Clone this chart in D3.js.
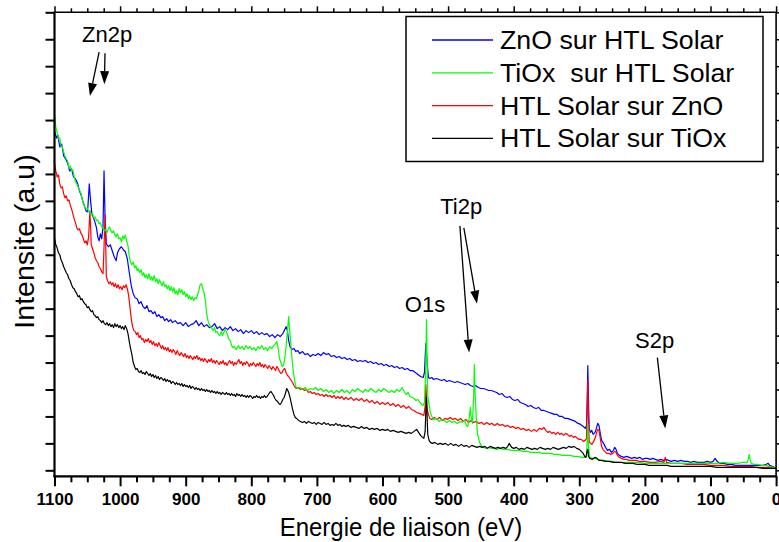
<!DOCTYPE html>
<html><head><meta charset="utf-8">
<script src="https://cdn.jsdelivr.net/npm/d3@7"></script>
<style>
body{margin:0;background:#fff;}
text{font-family:"Liberation Sans",Arial,sans-serif;}
</style></head>
<body><svg id="c" width="779" height="542"></svg>
<script>
// Binding energy (eV) / intensity (a.u.) pairs
const znoSurHtl = [[1100,346],[1097,339],[1095,342],[1092,330],[1089,333],[1086,321],[1083,318],[1080,314],[1077,306],[1074,308],[1071,300],[1068,298],[1065,294],[1062,286],[1060,283],[1057,276],[1054,270],[1052,266],[1050,265],[1049,271],[1047,293],[1045,276],[1043,263],[1040,258],[1038,254],[1036,249],[1034,240],[1032,236],[1030,243],[1028,238],[1026,251],[1024.5,306],[1023,261],[1021,233],[1018,230],[1015,232],[1012,226],[1009,220],[1006,216],[1004,224],[1001,228],[998,230],[995,227],[992,225],[989,218],[986,204],[983,191],[980,183],[977,179],[974,178],[971,173],[968,175],[965,170],[962,168],[959,171],[956,165],[953,166],[950,163],[947,165],[944,160],[941,162],[938,159],[935,160],[932,156],[929,158],[926,155],[923,157],[920,154],[916,156],[912,153],[908,154],[904,151],[900,154],[896,150],[892,152],[888,153],[884,156],[880,151],[876,154],[872,150],[868,152],[864,149],[860,150],[856,153],[852,148],[848,150],[844,146],[840,149],[836,147],[832,150],[828,146],[824,148],[820,145],[816,147],[812,143],[808,146],[804,144],[800,146],[796,143],[792,145],[788,142],[784,144],[780,142],[776,143],[772,140],[768,142],[764,139],[760,142],[756,140],[752,143],[749,147],[747,150],[745,146],[743,136],[741,130],[738,127],[735,128],[732,125],[729,126],[726,123],[722,125],[718,122],[714,123],[710,120],[706,122],[702,121],[698,123],[694,121],[690,124],[686,122],[682,123],[678,120],[674,121],[670,119],[666,120],[662,118],[658,119],[654,117],[650,118],[646,116],[642,117],[638,115],[634,116],[630,115],[626,116],[622,114],[618,115],[614,113],[610,114],[606,112],[602,113],[598,111],[594,112],[590,110],[586,111],[582,109],[578,110],[574,108],[570,109],[566,107],[562,108],[558,106],[554,106],[550,104],[546,102],[542,100],[538,99],[536,104],[534,133],[532,114],[530,99],[528,98],[525,99],[522,97],[518,98],[514,97],[510,96],[506,97],[502,95],[498,96],[494,95],[490,94],[486,95],[482,94],[478,93],[474,92],[470,93],[466,91],[462,90],[458,91],[454,89],[450,88],[446,88],[442,87],[438,86],[434,86],[430,85],[426,84],[422,82],[418,83],[414,80],[410,79],[406,80],[402,77],[398,76],[394,77],[390,74],[386,73],[382,72],[378,70],[374,71],[370,69],[366,68],[362,69],[358,66],[354,66],[350,65],[346,64],[342,63],[338,62],[334,62],[330,60],[326,60],[322,58],[318,58],[314,57],[310,56],[306,55],[302,53],[298,52],[294,50],[291,48],[289,51],[288,76],[287,111],[286,76],[285,48],[283,44],[281,46],[279,42],[276,44],[274,48],[272,53],[270,51],[268,43],[266,36],[263,33],[260,29],[257,26],[254,27],[251,24],[248,26],[246,29],[244,27],[242,23],[239,21],[236,20],[232,19],[228,20],[224,19],[220,18],[216,19],[212,18],[208,19],[204,17],[200,18],[196,18],[192,17],[188,18],[184,17],[180,16],[176,17],[172,16],[168,17],[164,16],[160,15],[155,16],[150,15],[145,16],[140,15],[135,15],[130,14],[125,15],[120,14],[115,14],[110,14],[105,15],[100,14],[96,15],[93,18],[90,15],[86,13],[80,13],[74,12],[68,12],[62,11],[56,11],[50,11],[44,11],[38,11],[32,11],[26,11],[20,11],[15,12],[12,13],[10,11],[6,10],[3,9],[0,8]];

const tioxSurHtl = [[1100,363],[1098,350],[1096,345],[1094,338],[1092,339],[1090,331],[1088,330],[1086,325],[1084,321],[1082,318],[1080,316],[1078,309],[1076,311],[1074,306],[1072,307],[1070,300],[1068,295],[1066,293],[1064,290],[1062,287],[1060,284],[1058,279],[1056,273],[1054,270],[1052,268],[1050,269],[1048,265],[1046,266],[1044,262],[1042,263],[1040,259],[1038,260],[1036,256],[1034,257],[1032,253],[1030,254],[1028,250],[1026,249],[1024,246],[1022,247],[1020,244],[1018,248],[1016,250],[1014,246],[1012,244],[1010,246],[1008,242],[1006,240],[1004,243],[1002,238],[1000,239],[998,235],[996,241],[994,238],[992,242],[990,236],[988,231],[986,220],[984,214],[982,212],[980,215],[978,209],[976,211],[974,206],[972,208],[970,204],[968,207],[966,201],[964,204],[962,199],[960,202],[958,198],[956,203],[954,197],[952,200],[950,196],[948,201],[946,195],[944,198],[942,193],[940,197],[938,194],[936,191],[934,195],[932,190],[930,192],[928,188],[926,191],[924,186],[922,190],[920,185],[918,189],[916,183],[914,186],[912,182],[910,188],[908,184],[906,187],[904,182],[902,185],[900,180],[898,183],[896,178],[894,181],[892,177],[890,180],[888,176],[886,179],[884,178],[882,182],[880,186],[878,192],[876,193],[874,188],[872,184],[870,176],[868,163],[866,156],[864,152],[862,150],[860,148],[858,146],[856,149],[854,144],[852,145],[850,142],[848,141],[846,145],[844,141],[842,144],[840,147],[838,145],[836,141],[834,137],[832,136],[830,131],[828,129],[826,130],[823,127],[820,131],[817,128],[814,130],[811,127],[808,131],[805,128],[802,130],[799,127],[796,129],[793,126],[790,130],[787,128],[784,131],[781,127],[778,129],[775,126],[772,130],[769,128],[766,131],[763,133],[761,135],[759,128],[757,118],[755,114],[753,110],[751,111],[749,118],[747,130],[745,145],[743,160],[742,150],[740,135],[738,118],[736,105],[734,96],[732,90],[730,88],[726,89],[722,87],[718,89],[714,86],[710,88],[706,87],[702,89],[698,86],[694,88],[690,85],[686,87],[682,84],[678,86],[674,83],[670,86],[666,84],[662,87],[658,84],[654,86],[650,83],[646,87],[642,85],[638,88],[634,86],[630,84],[626,87],[622,85],[618,88],[614,86],[610,84],[606,87],[602,85],[598,88],[594,86],[590,84],[586,86],[582,84],[578,87],[574,85],[570,89],[567,85],[564,82],[561,84],[558,80],[555,79],[552,78],[549,76],[546,77],[543,74],[540,72],[538,71],[536,74],[534,110],[533,157],[532,120],[531,80],[529,72],[527,64],[525,60],[522,57],[518,58],[514,55],[510,57],[506,56],[502,54],[498,56],[494,54],[490,55],[486,53],[482,55],[478,54],[475,56],[472,51],[470,50],[468,58],[466,69],[465,60],[463,53],[461,80],[460,112],[459,85],[457,58],[455,42],[452,34],[449,30],[446,29],[442,28],[438,29],[434,28],[430,28],[426,27],[421,28],[416,27],[410,27],[404,26],[398,26],[392,26],[386,25],[380,25],[374,24],[368,24],[362,24],[356,23],[350,23],[344,23],[338,22],[332,22],[326,21],[320,21],[314,21],[308,20],[302,20],[296,19],[292,19],[289,20],[288,35],[287,52],[286,30],[284,19],[280,18],[276,18],[272,17],[268,16],[262,16],[256,15],[250,15],[244,14],[238,14],[230,14],[220,14],[210,14],[200,13],[190,13],[180,13],[170,13],[160,13],[150,13],[140,13],[130,13],[120,13],[110,13],[100,13],[90,13],[80,14],[70,13],[60,13],[50,14],[44,14],[42,18],[41,22],[40,18],[38,13],[34,12],[28,12],[22,11],[16,11],[10,10],[5,9],[0,8]];

const htlSurZno = [[1100,314],[1098,306],[1096,300],[1094,302],[1092,293],[1090,289],[1088,290],[1086,283],[1084,279],[1082,281],[1080,276],[1078,277],[1076,272],[1074,268],[1072,263],[1070,258],[1068,254],[1066,249],[1064,247],[1062,248],[1060,244],[1058,242],[1056,238],[1054,234],[1052,236],[1050,232],[1048,240],[1046,266],[1045,250],[1044,232],[1042,228],[1040,224],[1038,219],[1036,216],[1034,214],[1032,210],[1030,208],[1028,205],[1026,203],[1024.5,230],[1023,262],[1022,235],[1021,200],[1019,196],[1017,193],[1015,195],[1013,192],[1011,194],[1009,190],[1007,193],[1005,189],[1003,192],[1001,188],[999,190],[997,187],[995,191],[993,189],[991,192],[989,188],[987,181],[985,170],[983,158],[981,150],[979,146],[977,145],[975,142],[973,144],[971,139],[969,141],[967,137],[965,138],[963,134],[961,137],[959,135],[957,138],[955,134],[953,136],[951,132],[949,135],[947,131],[945,133],[943,130],[941,134],[939,131],[937,128],[935,131],[933,127],[931,129],[929,126],[927,129],[925,125],[923,127],[921,124],[919,127],[917,125],[915,122],[913,126],[911,123],[909,121],[907,124],[905,122],[903,120],[901,123],[899,119],[897,121],[895,118],[893,121],[891,119],[889,117],[887,120],[885,118],[883,121],[881,117],[879,119],[877,116],[875,118],[873,115],[871,118],[869,116],[867,114],[865,117],[863,115],[861,118],[859,114],[857,116],[855,113],[853,116],[851,114],[849,112],[847,115],[845,113],[843,116],[841,112],[839,114],[837,111],[835,114],[833,116],[831,113],[829,115],[827,111],[825,114],[823,112],[821,115],[819,117],[817,113],[815,115],[813,111],[811,114],[809,112],[807,115],[805,113],[803,110],[801,113],[799,111],[797,114],[795,112],[793,110],[791,113],[789,111],[787,114],[785,110],[783,112],[781,109],[779,112],[777,110],[775,108],[773,111],[771,109],[769,107],[767,110],[765,108],[763,106],[761,110],[759,108],[757,105],[755,103],[753,104],[751,107],[749,108],[747,104],[745,101],[743,100],[741,98],[739,96],[737,94],[735,91],[733,89],[731,88],[728,89],[725,87],[722,88],[719,86],[716,87],[713,84],[710,85],[707,83],[704,84],[701,82],[698,83],[695,81],[692,82],[689,80],[686,82],[683,80],[680,81],[677,79],[674,81],[671,78],[668,80],[665,78],[662,80],[659,77],[656,79],[652,77],[648,79],[644,76],[640,78],[636,76],[632,78],[628,75],[624,77],[620,74],[616,76],[612,73],[608,75],[604,72],[600,74],[596,72],[592,74],[588,71],[584,73],[580,70],[576,72],[572,69],[568,71],[564,68],[560,70],[556,67],[552,66],[548,64],[544,63],[540,62],[537,61],[535,70],[534,92],[533,80],[532,68],[530,62],[528,58],[525,57],[521,59],[517,57],[513,59],[509,56],[505,58],[501,57],[497,59],[493,57],[489,58],[485,56],[481,58],[477,55],[473,57],[469,54],[465,56],[461,54],[457,55],[453,53],[449,54],[445,52],[441,54],[437,52],[433,53],[429,51],[425,53],[421,51],[417,52],[413,50],[409,51],[405,49],[401,50],[397,48],[393,49],[389,47],[385,48],[381,46],[377,47],[373,45],[369,47],[365,45],[361,48],[357,47],[354,49],[351,46],[348,44],[345,45],[342,43],[339,44],[336,42],[333,44],[330,42],[327,43],[324,41],[321,43],[318,42],[315,40],[312,41],[309,39],[306,40],[303,38],[300,37],[297,37],[294,35],[291,36],[289,38],[288,70],[287,96],[286,60],[285,35],[283,33],[281,32],[279,34],[276,38],[274,43],[272,47],[270,46],[268,38],[266,30],[264,27],[261,25],[258,23],[255,23],[252,22],[249,23],[246,25],[244,24],[242,21],[239,19],[236,18],[232,17],[228,17],[224,16],[220,16],[214,16],[208,15],[200,15],[192,14],[184,14],[176,15],[171,14],[169,19],[167,14],[160,13],[152,13],[144,13],[136,12],[128,12],[120,12],[110,12],[100,11],[90,11],[80,11],[70,10],[60,10],[50,10],[40,10],[30,9],[20,9],[10,9],[0,8]];

const htlSurTiox = [[1100,239],[1098,232],[1096,229],[1094,224],[1092,222],[1090,217],[1088,214],[1086,210],[1084,207],[1082,204],[1080,202],[1078,198],[1076,196],[1074,192],[1072,189],[1070,188],[1068,185],[1066,183],[1064,180],[1062,181],[1060,177],[1058,178],[1056,175],[1054,173],[1052,172],[1050,169],[1048,170],[1046,167],[1044,165],[1042,166],[1040,162],[1038,161],[1036,159],[1034,160],[1032,157],[1030,156],[1028,154],[1026,156],[1024,153],[1022,152],[1020,154],[1018,151],[1016,153],[1014,150],[1012,152],[1010,149],[1008,153],[1006,150],[1004,152],[1002,149],[1000,151],[998,148],[996,150],[994,147],[992,151],[990,148],[988,143],[986,135],[984,128],[982,122],[980,114],[978,110],[976,107],[974,108],[972,105],[970,104],[968,106],[966,103],[964,104],[962,102],[960,105],[958,103],[956,101],[954,103],[952,100],[950,102],[948,99],[946,101],[944,98],[942,100],[940,97],[938,99],[936,98],[934,96],[932,98],[930,95],[928,97],[926,95],[924,96],[922,93],[920,95],[918,94],[916,92],[914,94],[912,92],[910,93],[908,91],[906,93],[904,90],[902,92],[900,90],[898,91],[896,89],[894,91],[892,88],[890,90],[888,89],[886,87],[884,89],[882,87],[880,88],[878,86],[876,88],[874,86],[872,87],[870,85],[868,87],[866,85],[864,86],[862,84],[860,86],[858,84],[856,85],[854,83],[852,85],[850,83],[848,84],[846,82],[844,84],[842,83],[840,82],[838,84],[836,82],[834,83],[832,81],[830,83],[828,81],[826,82],[824,80],[822,83],[820,81],[818,82],[816,80],[814,82],[812,80],[810,81],[808,79],[806,81],[804,79],[802,81],[800,80],[798,78],[796,80],[794,79],[792,81],[790,79],[788,80],[786,78],[784,80],[782,79],[780,81],[778,79],[776,80],[774,82],[772,84],[770,85],[768,83],[766,81],[764,78],[762,76],[760,75],[758,73],[756,72],[754,74],[752,77],[750,79],[748,83],[746,88],[745,87],[743,84],[741,79],[739,73],[737,67],[735,62],[733,59],[731,58],[728,56],[725,55],[722,54],[719,55],[716,53],[713,55],[710,54],[707,53],[704,54],[701,52],[698,54],[695,53],[692,52],[689,54],[686,52],[683,53],[680,51],[677,52],[674,51],[671,53],[668,51],[665,52],[662,50],[659,51],[656,50],[652,51],[648,49],[644,50],[640,49],[636,48],[632,50],[628,48],[624,49],[620,47],[616,48],[612,47],[608,48],[604,46],[600,47],[596,46],[592,47],[588,45],[584,46],[580,45],[576,44],[572,45],[568,44],[564,43],[560,44],[556,43],[552,45],[548,47],[545,44],[542,41],[539,39],[537,38],[535,45],[534,65],[533,79],[532,60],[531,42],[529,36],[527,34],[524,33],[520,34],[516,32],[512,33],[508,32],[504,33],[500,31],[496,33],[492,31],[488,32],[484,30],[480,32],[476,30],[472,31],[468,29],[464,31],[460,30],[456,29],[452,30],[448,29],[444,30],[440,28],[436,30],[432,29],[428,28],[424,29],[420,28],[416,29],[412,28],[409,30],[407,33],[405,31],[403,29],[400,28],[396,29],[392,27],[388,28],[384,27],[380,29],[376,28],[372,27],[368,28],[364,27],[360,29],[356,28],[352,27],[348,28],[344,27],[340,29],[336,28],[332,27],[328,28],[324,29],[320,28],[316,30],[312,29],[308,30],[304,28],[300,27],[297,25],[294,23],[292,20],[290,19],[288,26],[287,27],[286,20],[284,18],[280,17],[276,19],[273,18],[270,16],[266,16],[260,15],[254,15],[248,14],[242,14],[236,14],[230,13],[224,13],[218,13],[212,12],[206,12],[200,12],[194,11],[188,11],[180,11],[172,11],[166,11],[160,10],[150,10],[140,10],[130,10],[120,10],[110,10],[100,10],[90,9],[80,9],[70,9],[60,9],[50,9],[40,9],[30,9],[20,8],[10,8],[0,8]];

const seriesNames = ["ZnO sur HTL Solar", "TiOx  sur HTL Solar", "HTL Solar sur ZnO", "HTL Solar sur TiOx"];
const seriesColors = ["#0000ff", "#00ff00", "#ff0000", "#000000"];
const seriesData = [znoSurHtl, tioxSurHtl, htlSurZno, htlSurTiox];
const drawOrder = [0, 2, 1, 3];

const xTicks = [1100, 1000, 900, 800, 700, 600, 500, 400, 300, 200, 100, 0];
const xMinorTicks = d3.range(0, 1101, 25).filter(v => v % 100 !== 0);
const yTicks = d3.range(6, 466, 27);

const annotations = [
  {text: "Zn2p", x: 1058, y: 435},
  {text: "Ti2p", x: 512, y: 263},
  {text: "O1s", x: 566, y: 165},
  {text: "S2p", x: 215, y: 129}
];
const arrows = [
  [[1032, 425], [1046, 381]],
  [[1023, 424], [1024, 393]],
  [[482, 251], [468, 124]],
  [[476, 249], [456, 173]],
  [[181, 119], [169, 48]]
];

const svg = d3.select("#c");
const pL = 54.5, pR = 776.1, pT = 12.3, pB = 476.3;
const x = d3.scaleLinear().domain([1100, 0]).range([pL, pR]);
const y = d3.scaleLinear().domain([0, 465]).range([pB, pT]);

// data lines
const line = d3.line().x(d => x(d[0])).y(d => y(d[1]));
const gData = svg.append("g");
drawOrder.forEach(i => {
  gData.append("path").datum(seriesData[i])
    .attr("fill", "none").attr("stroke", seriesColors[i])
    .attr("stroke-width", 1.2).attr("stroke-linejoin", "round")
    .attr("d", line);
});

// axes
function styleAxis(g, w) {
  g.selectAll(".domain").remove();
  g.selectAll(".tick line").attr("stroke", "#000").attr("stroke-width", w);
}
const gB = svg.append("g").attr("transform", `translate(0,${pB})`)
  .call(d3.axisBottom(x).tickValues(xTicks).tickSize(10).tickPadding(7).tickFormat(d3.format("d")));
styleAxis(gB, 2);
gB.selectAll("text").attr("font-size", 17).attr("font-weight", "bold").attr("fill", "#000")
  .attr("font-family", "'Liberation Sans', Arial, sans-serif");
const gBm = svg.append("g").attr("transform", `translate(0,${pB})`)
  .call(d3.axisBottom(x).tickValues(xMinorTicks).tickSize(6).tickFormat(""));
styleAxis(gBm, 2);

const gT = svg.append("g").attr("transform", `translate(0,${pT})`)
  .call(d3.axisTop(x).tickValues(xTicks).tickSize(6).tickFormat(""));
styleAxis(gT, 1.5);
const gTm = svg.append("g").attr("transform", `translate(0,${pT})`)
  .call(d3.axisTop(x).tickValues(xMinorTicks).tickSize(4).tickFormat(""));
styleAxis(gTm, 1.5);

const gL = svg.append("g").attr("transform", `translate(${pL},0)`)
  .call(d3.axisLeft(y).tickValues(yTicks).tickSize(9).tickFormat(""));
styleAxis(gL, 2);
const gR = svg.append("g").attr("transform", `translate(${pR},0)`)
  .call(d3.axisRight(y).tickValues(yTicks).tickSize(6).tickFormat(""));
styleAxis(gR, 1.5);

// frame
svg.append("line").attr("x1", pL).attr("x2", pL).attr("y1", pT).attr("y2", pB + 1).attr("stroke", "#000").attr("stroke-width", 2.2);
svg.append("line").attr("x1", pL - 1).attr("x2", pR + 1).attr("y1", pB).attr("y2", pB).attr("stroke", "#000").attr("stroke-width", 2.2);
svg.append("line").attr("x1", pL - 1).attr("x2", pR + 1).attr("y1", pT).attr("y2", pT).attr("stroke", "#000").attr("stroke-width", 1.6);
svg.append("line").attr("x1", pR).attr("x2", pR).attr("y1", pT).attr("y2", pB).attr("stroke", "#000").attr("stroke-width", 1.6);

// axis titles
svg.append("text").attr("transform", "translate(401,536) scale(1,1.1)").attr("text-anchor", "middle")
  .attr("font-size", 24).text("Energie de liaison (eV)");
svg.append("text").attr("transform", "translate(34,241.5) rotate(-90)").attr("text-anchor", "middle")
  .attr("font-size", 28.5).text("Intensite (a.u)");

// annotations
annotations.forEach(a => {
  svg.append("text").attr("x", x(a.x)).attr("y", y(a.y)).attr("font-size", 22).text(a.text);
});
arrows.forEach(a => {
  const x1 = x(a[0][0]), y1 = y(a[0][1]), x2 = x(a[1][0]), y2 = y(a[1][1]);
  const ang = Math.atan2(y2 - y1, x2 - x1), L = 13, W = 4.5;
  const bx = x2 - L * Math.cos(ang), by = y2 - L * Math.sin(ang);
  svg.append("line").attr("x1", x1).attr("y1", y1).attr("x2", bx).attr("y2", by)
    .attr("stroke", "#000").attr("stroke-width", 1.3);
  const px = -Math.sin(ang) * W, py = Math.cos(ang) * W;
  svg.append("path").attr("d", `M${x2},${y2}L${bx + px},${by + py}L${bx - px},${by - py}Z`).attr("fill", "#000");
});

// legend
const lg = svg.append("g");
lg.append("rect").attr("x", 406).attr("y", 16.5).attr("width", 357).attr("height", 145)
  .attr("fill", "#fff").attr("stroke", "#000").attr("stroke-width", 1.5);
seriesNames.forEach((n, i) => {
  const cy = 40 + i * 32.8;
  lg.append("line").attr("x1", 432).attr("x2", 493).attr("y1", cy).attr("y2", cy)
    .attr("stroke", seriesColors[i]).attr("stroke-width", 1.3);
  lg.append("text").attr("transform", `translate(500,${cy + 9}) scale(1.07,1)`)
    .attr("font-size", 25).attr("xml:space", "preserve").style("white-space", "pre").text(n);
});
</script></body></html>
